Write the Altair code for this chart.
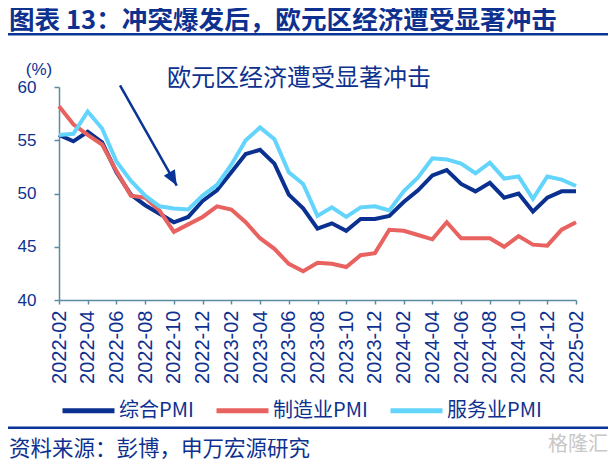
import altair as alt
import pandas as pd

# ---------------- data ----------------
months = [d.strftime("%Y-%m") for d in pd.date_range("2022-02-01", "2025-02-01", freq="MS")]

composite = [55.5, 54.9, 55.8, 54.8, 52.0, 49.9, 48.9, 48.1, 47.3, 47.8, 49.3, 50.3,
             52.0, 53.7, 54.1, 52.8, 49.9, 48.6, 46.7, 47.2, 46.5, 47.6, 47.6, 47.9,
             49.2, 50.3, 51.7, 52.2, 50.9, 50.2, 51.0, 49.6, 50.0, 48.3, 49.6, 50.2, 50.2]
manufacturing = [58.2, 56.5, 55.5, 54.6, 52.1, 49.8, 49.6, 48.4, 46.4, 47.1, 47.8, 48.8,
                 48.5, 47.3, 45.8, 44.8, 43.4, 42.7, 43.5, 43.4, 43.1, 44.2, 44.4, 46.6,
                 46.5, 46.1, 45.7, 47.3, 45.8, 45.8, 45.8, 45.0, 46.0, 45.2, 45.1, 46.6, 47.3]
services = [55.5, 55.6, 57.7, 56.1, 53.0, 51.2, 49.8, 48.8, 48.6, 48.5, 49.8, 50.8,
            52.7, 55.0, 56.2, 55.1, 52.0, 50.9, 47.9, 48.7, 47.8, 48.7, 48.8, 48.4,
            50.2, 51.5, 53.3, 53.2, 52.8, 51.9, 52.9, 51.4, 51.6, 49.5, 51.6, 51.3, 50.7]

series_names = ["综合PMI", "制造业PMI", "服务业PMI"]
series_colors = ["#0B3190", "#E86260", "#63D4FC"]
y_ticks = [40, 45, 50, 55, 60]
x_tick_labels = months[::2]

title_text = "图表 13：冲突爆发后，欧元区经济遭受显著冲击"
note_text = "欧元区经济遭受显著冲击"
unit_text = "(%)"
source_text = "资料来源：彭博，申万宏源研究"
mark_text_ = "格隆汇"

# arrow annotation (data units: month index, value)
arrow_start = (4.25, 60.15)
arrow_tip = (8.2, 50.75)

# ---------------- style ----------------
TXT = "#0E318F"
AXIS = "#5B8BA0"
RULE = "#0A3596"
CJK = "Noto Sans CJK SC"
LAT = "Liberation Sans"

rows = []
for name, vals in zip(series_names, [composite, manufacturing, services]):
    for i, v in enumerate(vals):
        rows.append({"idx": i, "month": months[i], "series": name, "value": v})
df = pd.DataFrame(rows)

x_enc = alt.X(
    "month:O",
    sort=months,
    scale=alt.Scale(type="point", padding=0),
    axis=alt.Axis(
        values=x_tick_labels, labelAngle=-90, title=None, grid=False,
        labelFont=LAT, labelFontSize=20, labelColor=TXT, labelPadding=6,
        labelOverlap=False, domainColor=AXIS, domainWidth=1.5, tickColor=AXIS,
        tickWidth=1.5, tickSize=4,
    ),
)
y_enc = alt.Y(
    "value:Q",
    scale=alt.Scale(domain=[40, 60], nice=False, zero=False),
    axis=alt.Axis(
        values=y_ticks, title=None, grid=False, labelFont=LAT, labelFontSize=17,
        labelColor=TXT, labelPadding=18, domainColor=AXIS, domainWidth=1.5,
        tickColor=AXIS, tickWidth=1.5, tickSize=5,
    ),
)

lines = alt.Chart(df).mark_line(strokeWidth=4).encode(
    x=x_enc,
    y=y_enc,
    color=alt.Color(
        "series:N",
        scale=alt.Scale(domain=series_names, range=series_colors),
        legend=alt.Legend(
            title=None, orient="none", legendX=1, legendY=295, direction="horizontal",
            symbolType="stroke", symbolSize=2704, symbolStrokeWidth=5,
            labelFont=CJK, labelFontSize=20, labelColor=TXT, labelOffset=2,
            columnPadding=12, padding=0,
        ),
    ),
)

arrow_df = pd.DataFrame({"x": [arrow_start[0]], "y": [arrow_start[1]],
                         "x2": [arrow_tip[0]], "y2": [arrow_tip[1]]})
ax_q = alt.X("x:Q", scale=alt.Scale(domain=[0, len(months) - 1], nice=False, zero=False), axis=None)
arrow_line = alt.Chart(arrow_df).mark_rule(color=RULE, strokeWidth=2.5).encode(
    x=ax_q, y="y:Q", x2="x2:Q", y2="y2:Q"
)
arrow_head = alt.Chart(arrow_df).mark_point(
    shape="M0,0L0.85,2L-0.85,2Z", size=225, angle=150.3, filled=True,
    color=RULE, opacity=1, strokeWidth=0,
).encode(
    x=alt.X("x2:Q", scale=alt.Scale(domain=[0, len(months) - 1], nice=False, zero=False), axis=None),
    y="y2:Q",
)
arrow = alt.layer(arrow_line, arrow_head)


def label(text, x, y, size, color=TXT, weight="normal", align="left", font=CJK):
    return alt.Chart(pd.DataFrame({"t": [text]})).mark_text(
        font=font, fontSize=size, fontWeight=weight, color=color,
        align=align, baseline="middle",
    ).encode(text="t:N", x=alt.value(x), y=alt.value(y))


def hrule(y, width=2.5):
    return alt.Chart(pd.DataFrame({"a": [0]})).mark_rule(
        color=RULE, strokeWidth=width
    ).encode(x=alt.value(-51), x2=alt.value(549), y=alt.value(y))


title = label(title_text, -50, -66, 25.6, weight="bold")
top_rule = hrule(-52.7)
unit = label(unit_text, -20, -17, 17, align="center", font=LAT)
note = label(note_text, 108, -8, 24)
bottom_rule = hrule(340.7)
source = label(source_text, -50, 362.5, 21.5)
wm = label(mark_text_, 549, 358, 20, color="#C8C8C8", align="right")

chart = alt.layer(
    lines, arrow, title, top_rule, unit, note, bottom_rule, source, wm
).resolve_scale(x="independent").properties(
    width=517, height=213,
    padding={"left": 51, "top": 79, "right": 32, "bottom": 160},
    autosize=alt.AutoSizeParams(type="none"),
).configure_view(strokeWidth=0)

chart.save("out.html", embed_options={"renderer": "svg", "actions": False})
